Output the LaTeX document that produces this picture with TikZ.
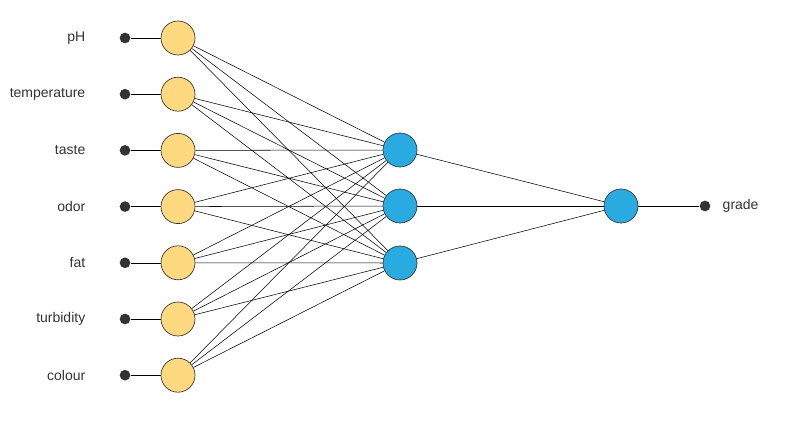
\documentclass[tikz,border=0pt]{standalone}
\usepackage{fontspec}
\setmainfont{Liberation Sans}
\begin{document}
\begin{tikzpicture}[x=0.75pt,y=-0.75pt,
  inp/.style={circle,draw=black!80,fill=yellow!55!orange!45!white,minimum size=25.5pt,inner sep=0pt,line width=0.5pt},
  hid/.style={circle,draw=black!80,fill={rgb,255:red,41;green,171;blue,226},minimum size=25.5pt,inner sep=0pt,line width=0.5pt},
  dot/.style={circle,fill=black!80,minimum size=8pt,inner sep=0pt},
  lab/.style={font=\fontsize{10.5pt}{12pt}\selectfont,text=black!80},
  con/.style={line width=0.4pt,black}]
\useasboundingbox (0,0) rectangle (800,435);
\definecolor{yel}{RGB}{255,217,128}
\tikzset{inp/.append style={fill=yel}}
\foreach \t [count=\i] in {pH,temperature,taste,odor,fat,turbidity,colour}{
  \pgfmathsetmacro\yy{38+56.2*(\i-1)}
  \node[inp] (i\i) at (178,\yy) {};
  \node[dot] (d\i) at (125,\yy) {};
  \node[lab,anchor=east] (l\i) at (90,\yy) {\t};
}
\foreach \j/\yy in {1/150,2/206,3/263}{\node[hid] (h\j) at (400,\yy) {};}
\node[hid] (o) at (621,206) {};
\node[dot] (od) at (705,206) {};
\node[lab,anchor=west] (ol) at (718,206) {grade};
\begin{scope}[on background layer/.try]
\end{scope}
\foreach \i in {1,...,7}{
  \draw[con] (d\i) -- (i\i);
  \foreach \j in {1,2,3}{\draw[con] (i\i) -- (h\j);}
}
\foreach \j in {1,2,3}{\draw[con] (h\j) -- (o);}
\draw[con] (o) -- (od);
\end{tikzpicture}
\end{document}
